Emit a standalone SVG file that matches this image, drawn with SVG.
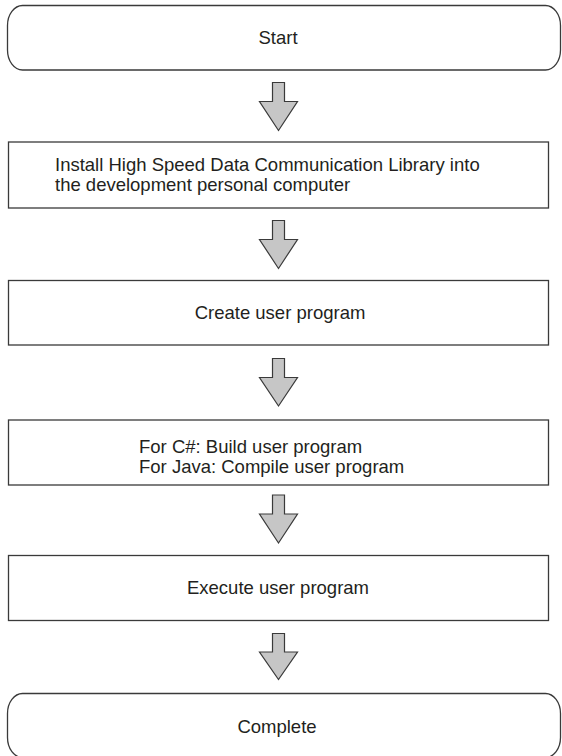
<svg xmlns="http://www.w3.org/2000/svg" width="562" height="756" viewBox="0 0 562 756">
<style>
.box{fill:#fff;stroke:#3a3a3a;stroke-width:1.3}
.arr{fill:#c6c6c6;stroke:#3a3a3a;stroke-width:1.2;stroke-linejoin:miter}
.t{font-family:"Liberation Sans",Arial,sans-serif;font-size:18.5px;fill:#231f20}
.c{text-anchor:middle}
</style>
<rect width="562" height="756" fill="#fff"/>
<g id="start">
<rect class="box" x="7.5" y="5.5" width="553" height="64.5" rx="15" ry="20"/>
<text class="t c" x="278" y="44">Start</text>
</g>
<g id="install">
<rect class="box" x="8.5" y="142" width="540" height="66"/>
<text class="t" x="55" y="171">Install High Speed Data Communication Library into</text>
<text class="t" x="55" y="191">the development personal computer</text>
</g>
<g id="create">
<rect class="box" x="8.5" y="280.5" width="540" height="64.5"/>
<text class="t c" x="280" y="319">Create user program</text>
</g>
<g id="build">
<rect class="box" x="8.5" y="420" width="540" height="65"/>
<text class="t" x="139" y="453">For C#: Build user program</text>
<text class="t" x="139" y="473">For Java: Compile user program</text>
</g>
<g id="execute">
<rect class="box" x="8.5" y="555.5" width="540" height="65"/>
<text class="t c" x="278" y="594">Execute user program</text>
</g>
<g id="complete">
<rect class="box" x="7.5" y="693.5" width="553" height="64" rx="15" ry="20"/>
<text class="t c" x="277" y="733">Complete</text>
</g>
<g id="connectors">
<path class="arr" d="M272.5,82.5 V101.5 H259.5 L278.5,130.5 L297.5,101.5 H284.5 V82.5 Z"/>
<path class="arr" d="M272.5,220.5 V239.5 H259.5 L278.5,268.5 L297.5,239.5 H284.5 V220.5 Z"/>
<path class="arr" d="M272.5,358.5 V377.5 H259.5 L278.5,406 L297.5,377.5 H284.5 V358.5 Z"/>
<path class="arr" d="M272.5,495 V514 H259.5 L278.5,543 L297.5,514 H284.5 V495 Z"/>
<path class="arr" d="M272.5,633.5 V652 H259.5 L278.5,679.5 L297.5,652 H284.5 V633.5 Z"/>
</g>
</svg>
